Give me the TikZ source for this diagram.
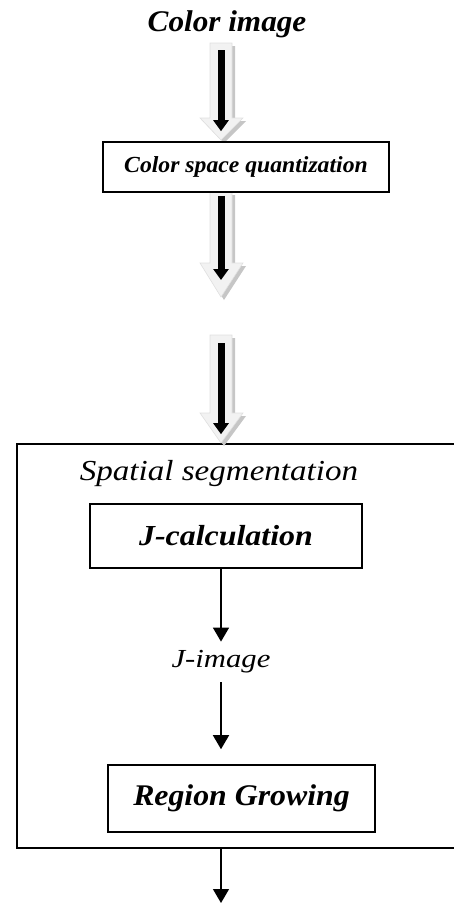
\documentclass[tikz,border=0pt]{standalone}
\usepackage{fontspec}
\usepackage{graphicx}
\setmainfont{Liberation Serif}
\usetikzlibrary{arrows.meta}

% hollow arrow with shadow: x, top, head start, tip
\newcommand{\fatarrow}[4]{%
	\fill[gray!45] ({#1-8},{#2+3}) -- ({#1+14},{#2+3}) -- ({#1+14},{#3+3}) -- ({#1+25},{#3+3}) -- ({#1+3},{#4+3}) -- ({#1-18},{#3+3}) -- ({#1-8},{#3+3}) -- cycle;
	\filldraw[fill=gray!10, draw=gray!25, line width=0.3pt] ({#1-11},{#2}) -- ({#1+11},{#2}) -- ({#1+11},{#3}) -- ({#1+22},{#3}) -- ({#1},{#4}) -- ({#1-21},{#3}) -- ({#1-11},{#3}) -- cycle;
}

\begin{document}
\begin{tikzpicture}[x=0.5pt, y=-0.5pt,
		stagebox/.style={rectangle, draw=black, line width=0.8pt, fill=white, inner sep=0pt},
		bigflow/.style={line width=3.5pt, -{Triangle[width=7.5pt,length=5.5pt]}},
		flow/.style={line width=0.7pt, -{Triangle[width=8pt,length=7pt]}}]
		\clip (0,0) rectangle (454,906);

		\coordinate (axis) at (221,0);

		% outer box
		\node[stagebox, fill=none, minimum width=226.5pt, minimum height=202pt](segBox) at (243.5,646){};

		% hollow arrows
		\fatarrow{221}{43}{118}{140}
		\fatarrow{221}{192}{263}{297}
		\fatarrow{221}{335}{413}{443}

		\node[inner sep=0pt, font=\fontsize{15}{17}\selectfont\bfseries\itshape](colorImg) at (227,24){\scalebox{1.04}[1]{Color image}};
		\node[stagebox, minimum width=143pt, minimum height=25pt, font=\fontsize{11.5}{13}\selectfont\bfseries\itshape](quantBox) at (246,167){\scalebox{1.03}[1]{Color space quantization}};

		\coordinate (gapTop) at (221,280);
		\coordinate (gapBot) at (221,343);

		\node[inner sep=0pt, font=\fontsize{14.5}{16}\selectfont\itshape](spatialTxt) at (219,474){\scalebox{1.14}[1]{Spatial segmentation}};
		\node[stagebox, minimum width=136pt, minimum height=32pt, font=\fontsize{14.5}{16}\selectfont\bfseries\itshape](jcalcBox) at (226,536){\scalebox{1.1}[1]{J-calculation}};
		\node[inner sep=0pt, minimum height=20pt, font=\fontsize{13}{15}\selectfont\itshape](jImg) at (221,662){\scalebox{1.18}[1]{J-image}};
		\node[stagebox, minimum width=133.5pt, minimum height=33.5pt, font=\fontsize{15}{17}\selectfont\bfseries\itshape](regionBox) at (241.5,798.5){\scalebox{1.06}[1]{Region Growing}};

		\coordinate (outEnd) at (221,903);

		% draw thick flow edges
		\draw[bigflow, shorten <=6pt, shorten >=5pt] (colorImg.south -| axis) -- (quantBox.north -| axis);
		\draw[bigflow, shorten <=1.5pt] (quantBox.south -| axis) -- (gapTop);
		\draw[bigflow, shorten >=4.5pt] (gapBot) -- (segBox.north -| axis);
		
		% draw thin flow edges
		\draw[flow] (jcalcBox.south -| jImg) -- (jImg.north);
		\draw[flow, shorten >=7.5pt] (jImg.south) -- (regionBox.north -| jImg);
		\draw[flow] (segBox.south -| outEnd) -- (outEnd);

	\end{tikzpicture}
\end{document}
